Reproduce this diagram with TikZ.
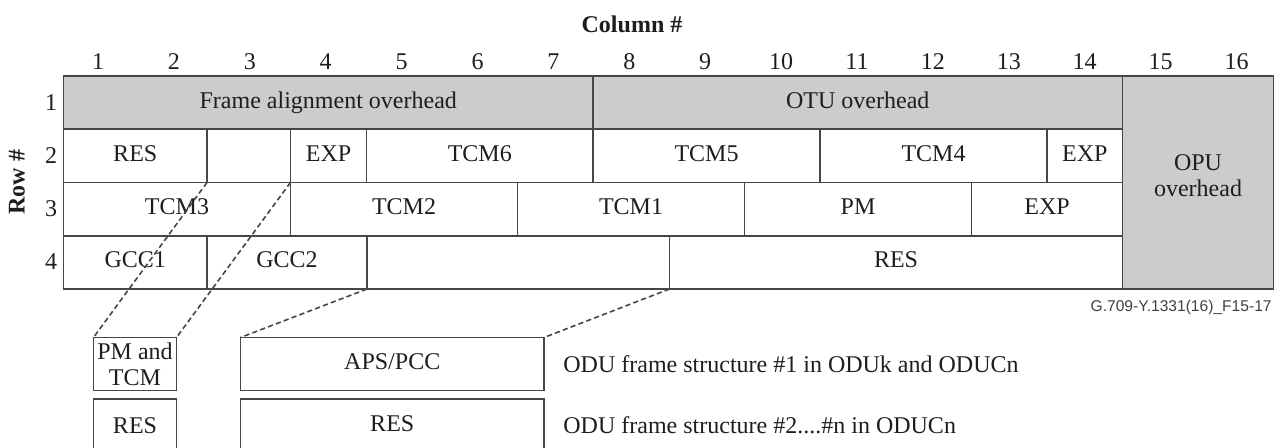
\documentclass[tikz,border=0pt]{standalone}
\usepackage{fontspec}
\setmainfont{Liberation Serif}
\newfontfamily\labelsans{Liberation Sans}
\definecolor{ovgray}{RGB}{204,204,204}
\definecolor{linegray}{RGB}{70,70,70}
\definecolor{txt}{RGB}{30,30,30}
\begin{document}
\begin{tikzpicture}[x=0.5pt,y=-0.5pt,
  basebox/.style={draw=linegray, line width=0.9pt, inner sep=0pt, outer sep=0pt, anchor=north west,
    font=\fontsize{12}{13}\selectfont, text=txt, align=center},
  cellbox/.style={basebox, minimum height=26.625pt, text height=8pt, text depth=2.5pt},
  graycell/.style={cellbox, fill=ovgray},
  plain/.style={font=\fontsize{12}{13}\selectfont, text=txt, inner sep=0pt},
  boldlbl/.style={font=\bfseries\fontsize{12}{13}\selectfont, text=txt, inner sep=0pt},
  zoomline/.style={draw=linegray, line width=0.8pt, dash pattern=on 2.6pt off 1.6pt}
]
\useasboundingbox (0,0) rectangle (1277,448);

% headers
\node[boldlbl] (colhdr) at (632,24) {Column \#};
\node[boldlbl, rotate=90] (rowhdr) at (17,182) {Row \#};
\foreach \i in {1,...,16} \node[plain] (col\i) at ({98+(\i-1)*75.9},62) {\i};
\foreach \r/\y in {1/102.5,2/156,3/209,4/262} \node[plain] (row\r) at (51,\y) {\r};

% row 1
\node[graycell, minimum width=264.75pt] (fa) at (63.5,76) {Frame alignment overhead};
\node[graycell, minimum width=264.75pt] (otu) at (593,76) {OTU overhead};
\node[basebox, fill=ovgray, minimum width=75.5pt, minimum height=106.5pt] (opu) at (1122.5,76) {};
\node[plain, align=center] (opulbl) at (1198,176) {OPU\\overhead};

% row 2
\node[cellbox, minimum width=71.75pt] (r2res) at (63.5,129.25) {RES};
\node[cellbox, minimum width=41.75pt] (r2blank) at (207,129.25) {};
\node[cellbox, minimum width=38pt] (r2exp) at (290.5,129.25) {EXP};
\node[cellbox, minimum width=113.25pt] (tcm6) at (366.5,129.25) {TCM6};
\node[cellbox, minimum width=113.5pt] (tcm5) at (593,129.25) {TCM5};
\node[cellbox, minimum width=113.5pt] (tcm4) at (820,129.25) {TCM4};
\node[cellbox, minimum width=37.75pt] (r2expb) at (1047,129.25) {EXP};

% row 3
\node[cellbox, minimum width=113.5pt] (tcm3) at (63.5,182.5) {TCM3};
\node[cellbox, minimum width=113.5pt] (tcm2) at (290.5,182.5) {TCM2};
\node[cellbox, minimum width=113.5pt] (tcm1) at (517.5,182.5) {TCM1};
\node[cellbox, minimum width=113.5pt] (pm) at (744.5,182.5) {PM};
\node[cellbox, minimum width=75.5pt] (r3exp) at (971.5,182.5) {EXP};

% row 4
\node[cellbox, minimum width=71.75pt] (gcc1) at (63.5,235.75) {GCC1};
\node[cellbox, minimum width=80pt] (gcc2) at (207,235.75) {GCC2};
\node[cellbox, minimum width=151.25pt] (r4blank) at (367,235.75) {};
\node[cellbox, minimum width=226.5pt] (r4res) at (669.5,235.75) {RES};

% figure id
\node[font=\labelsans\fontsize{7.8}{9}\selectfont, text=txt!85, anchor=east, inner sep=0pt] (figid) at (1272,307) {G.709-Y.1331(16)\_F15-17};

% lower boxes
\node[basebox, minimum width=41.5pt, minimum height=26.5pt] (pmtcm) at (93.5,337.5) {PM and\\TCM};
\node[basebox, minimum width=41.5pt, minimum height=26.5pt] (res1) at (93.5,399) {RES};
\node[cellbox, minimum width=151.75pt, minimum height=26.5pt] (aps) at (240.5,337.5) {APS/PCC};
\node[cellbox, minimum width=151.75pt, minimum height=26.5pt] (res2) at (240.5,399) {RES};

\node[plain, anchor=west] (desc1) at (563,364) {ODU frame structure \#1 in ODUk and ODUCn};
\node[plain, anchor=west] (desc2) at (563,425.5) {ODU frame structure \#2....\#n in ODUCn};

% dashed zoom lines
\draw[zoomline] (r2res.south east) -- (pmtcm.north west);
\draw[zoomline] (r2blank.south east) -- (pmtcm.north east);
\draw[zoomline] (gcc2.south east) -- (aps.north west);
\draw[zoomline] (r4blank.south east) -- (aps.north east);
\end{tikzpicture}
\end{document}
